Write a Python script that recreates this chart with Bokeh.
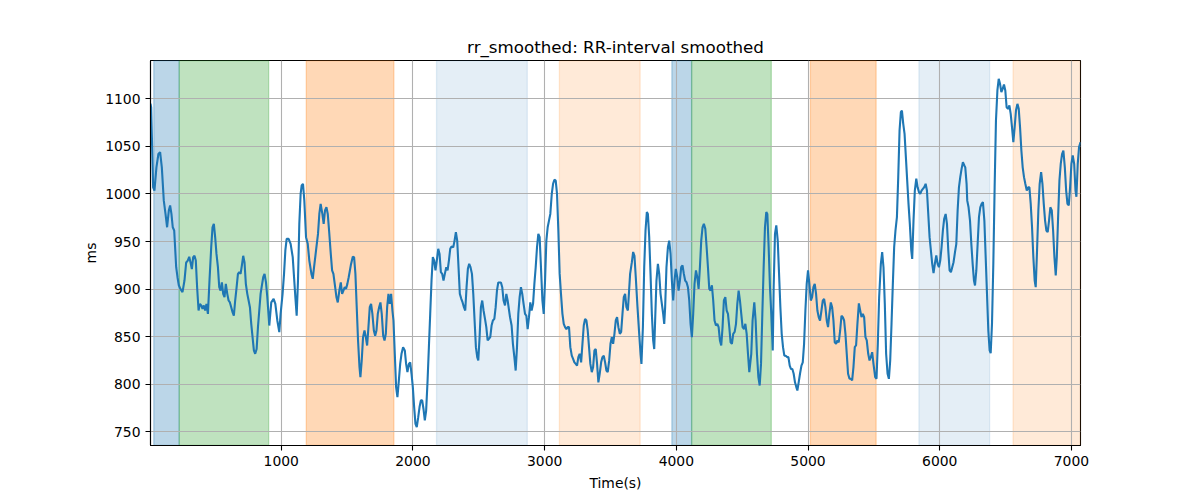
from bokeh.plotting import figure
from bokeh.models import BoxAnnotation, FixedTicker, Range1d
from bokeh.embed import file_html
from bokeh.resources import INLINE

# ---- data ----
time_s = [
    7, 12, 27, 37, 52, 67, 80, 93, 108, 121, 133, 146, 156, 166, 176, 187, 202, 212, 222, 235,
    250, 265, 278, 290, 301, 311, 321, 331, 341, 351, 361, 372, 382, 392, 402, 412, 422, 432, 443, 455,
    468, 478, 488, 498, 508, 519, 529, 539, 549, 559, 569, 579, 590, 600, 610, 620, 630, 640, 650, 661,
    671, 681, 691, 701, 711, 721, 731, 742, 752, 762, 772, 782, 792, 802, 813, 823, 833, 843, 853, 863,
    873, 884, 894, 909, 924, 942, 955, 970, 985, 995, 1010, 1021, 1031, 1041, 1056, 1071, 1087, 1097, 1107, 1117,
    1127, 1137, 1147, 1155, 1165, 1175, 1188, 1201, 1213, 1229, 1239, 1249, 1264, 1279, 1289, 1299, 1312, 1322, 1332, 1343,
    1353, 1363, 1376, 1386, 1396, 1406, 1419, 1429, 1441, 1452, 1462, 1472, 1482, 1492, 1502, 1512, 1528, 1543, 1553, 1563,
    1573, 1583, 1594, 1601, 1611, 1621, 1632, 1642, 1652, 1662, 1672, 1682, 1692, 1703, 1713, 1723, 1733, 1743, 1753, 1763,
    1774, 1784, 1794, 1804, 1814, 1824, 1834, 1844, 1852, 1862, 1872, 1882, 1893, 1903, 1913, 1925, 1938, 1948, 1958, 1969,
    1979, 1989, 1999, 2009, 2019, 2029, 2040, 2050, 2060, 2070, 2080, 2090, 2100, 2111, 2121, 2131, 2141, 2151, 2161, 2171,
    2181, 2192, 2202, 2212, 2222, 2232, 2242, 2253, 2263, 2273, 2283, 2293, 2306, 2316, 2326, 2336, 2346, 2356, 2367, 2377,
    2387, 2397, 2407, 2417, 2427, 2437, 2448, 2458, 2468, 2478, 2488, 2496, 2506, 2516, 2526, 2536, 2547, 2557, 2567, 2577,
    2587, 2597, 2607, 2618, 2628, 2638, 2648, 2658, 2668, 2678, 2688, 2699, 2709, 2719, 2737, 2749, 2759, 2770, 2780, 2790,
    2800, 2810, 2820, 2830, 2840, 2851, 2861, 2871, 2881, 2891, 2901, 2912, 2922, 2932, 2942, 2952, 2962, 2972, 2983, 2993,
    3003, 3013, 3023, 3033, 3043, 3054, 3064, 3074, 3084, 3094, 3104, 3114, 3124, 3135, 3145, 3155, 3165, 3175, 3185, 3195,
    3206, 3216, 3226, 3236, 3246, 3256, 3266, 3277, 3287, 3297, 3307, 3317, 3327, 3337, 3347, 3358, 3368, 3378, 3388, 3398,
    3408, 3418, 3429, 3439, 3449, 3459, 3469, 3479, 3490, 3500, 3510, 3520, 3530, 3540, 3550, 3560, 3571, 3581, 3591, 3601,
    3611, 3621, 3632, 3649, 3662, 3672, 3682, 3692, 3705, 3718, 3728, 3735, 3746, 3756, 3766, 3776, 3784, 3794, 3804, 3814,
    3824, 3832, 3839, 3849, 3860, 3870, 3880, 3890, 3900, 3908, 3915, 3925, 3936, 3946, 3956, 3966, 3976, 3986, 3996, 4007,
    4017, 4027, 4037, 4047, 4057, 4067, 4078, 4088, 4098, 4108, 4118, 4128, 4138, 4149, 4159, 4169, 4179, 4189, 4199, 4209,
    4220, 4230, 4240, 4250, 4260, 4270, 4280, 4290, 4301, 4311, 4321, 4331, 4341, 4351, 4361, 4372, 4382, 4392, 4402, 4412,
    4422, 4432, 4443, 4453, 4463, 4473, 4483, 4493, 4503, 4514, 4524, 4534, 4544, 4554, 4569, 4579, 4592, 4602, 4612, 4623,
    4633, 4643, 4653, 4663, 4673, 4683, 4691, 4701, 4711, 4721, 4732, 4739, 4749, 4759, 4770, 4780, 4790, 4800, 4810, 4820,
    4830, 4841, 4851, 4861, 4871, 4881, 4891, 4901, 4911, 4919, 4929, 4939, 4950, 4960, 4970, 4980, 4990, 5000, 5010, 5021,
    5031, 5041, 5051, 5061, 5071, 5081, 5091, 5102, 5112, 5122, 5132, 5142, 5152, 5162, 5173, 5183, 5193, 5203, 5213, 5223,
    5233, 5244, 5254, 5264, 5274, 5284, 5294, 5304, 5315, 5325, 5335, 5345, 5355, 5365, 5375, 5386, 5396, 5406, 5416, 5426,
    5436, 5446, 5457, 5467, 5477, 5487, 5497, 5510, 5520, 5530, 5540, 5553, 5563, 5573, 5583, 5593, 5604, 5614, 5624, 5634,
    5644, 5654, 5664, 5675, 5685, 5695, 5705, 5713, 5723, 5733, 5743, 5753, 5763, 5773, 5784, 5791, 5801, 5811, 5822, 5832,
    5842, 5852, 5862, 5872, 5882, 5893, 5903, 5913, 5923, 5933, 5943, 5953, 5963, 5974, 5984, 5994, 6004, 6014, 6024, 6034,
    6045, 6055, 6065, 6075, 6085, 6095, 6105, 6116, 6126, 6136, 6146, 6156, 6166, 6176, 6187, 6194, 6204, 6209, 6219, 6230,
    6240, 6250, 6260, 6268, 6278, 6288, 6298, 6308, 6318, 6328, 6339, 6349, 6359, 6369, 6379, 6387, 6397, 6407, 6417, 6427,
    6438, 6448, 6458, 6468, 6478, 6488, 6498, 6508, 6519, 6529, 6539, 6549, 6559, 6569, 6579, 6590, 6600, 6610, 6620, 6630,
    6640, 6650, 6661, 6671, 6681, 6691, 6701, 6711, 6721, 6729, 6739, 6749, 6759, 6770, 6780, 6790, 6800, 6810, 6820, 6830,
    6840, 6851, 6861, 6871, 6881, 6889, 6899, 6909, 6919, 6929, 6939, 6950, 6960, 6970, 6980, 6990, 7000, 7010, 7021, 7031,
    7038, 7048, 7058, 7069,
]

rr_ms = [
    1095, 1091, 1007, 1003.6, 1028, 1042, 1044, 1028, 993, 979, 965, 982.6, 988, 979, 965, 961.6, 923, 912.5, 904, 900,
    896.8, 909, 928, 930, 934, 928, 921, 933.6, 935, 930, 902, 877.5, 884.5, 882.8, 879.3, 882.8, 877.5, 884.5, 874, 909,
    944, 965, 968.6, 954.6, 937, 923, 902, 898.5, 907, 895, 891.5, 905.5, 895, 888, 886, 881, 875.8, 872, 888, 902,
    916, 917.8, 916, 925, 935, 928, 905.5, 895, 888, 881, 863.5, 849.5, 835.5, 832, 837, 860, 877.5, 895, 904, 912.5,
    916, 907, 891.5, 861.7, 886, 889.8, 884.5, 867, 854.7, 874, 895, 916, 940.6, 952.8, 952.8, 947.6, 933.6, 912.5, 891.5, 872,
    909, 968.6, 1000, 1009, 1010.7, 993, 954.6, 947.6, 930, 916, 910.8, 923, 940.6, 958, 979, 989.6, 979, 968.6, 982.6, 986,
    979, 961.6, 937, 919.6, 916, 905.5, 891.5, 886, 898.5, 907, 895, 898.5, 902, 900.3, 905.5, 912.5, 925, 934, 933.6, 916,
    881, 846, 818, 807.4, 825, 849.5, 856.5, 849.5, 840.7, 860, 881, 884.5, 874, 856.5, 851, 856.5, 874, 881, 886, 874,
    851, 846, 853, 881, 895, 884.5, 895, 877.5, 867, 832, 797, 786.5, 804, 821.4, 832, 839, 835.5, 821.4, 812.7, 821.4,
    823, 811, 797, 776, 758.4, 755, 765.4, 776, 783, 783, 774, 762, 772, 804, 839, 874, 909, 933.6, 930, 919.6,
    930, 942.3, 937, 917.8, 916, 909, 916, 923, 919.6, 930, 942.3, 944.8, 944, 951, 959.8, 951, 923, 895, 889.8, 886,
    881, 877.5, 902, 921.3, 926.6, 923, 916, 895, 867, 839, 828.5, 825, 849.5, 881, 888, 877.5, 868.7, 860, 846, 847.8,
    849.5, 861.7, 867, 868.7, 881, 898.5, 907, 907, 907, 902, 888, 882.8, 895, 888, 870.5, 861.7, 842.5, 828.5, 814.4, 839,
    874, 891.5, 902, 895, 884.5, 874, 872, 858, 870.5, 886, 877.5, 884.5, 905.5, 923, 944, 958, 954.6, 923, 888, 874,
    909, 951, 965, 972, 979, 1000, 1010.7, 1015, 1014, 1000, 961.6, 916, 895, 874, 863.5, 860, 858, 860, 860, 839,
    830, 826.7, 823, 821.4, 819.6, 828.5, 832, 823, 842.5, 861.7, 868.7, 867, 856.5, 839, 821.4, 812.7, 818, 835.5, 837, 821.4,
    802, 811, 823, 828.5, 830, 823, 814.4, 812.7, 825, 842.5, 849.5, 842.5, 853, 867, 870.5, 860, 853, 855, 874, 891.5,
    895, 881, 877.5, 916, 928, 939, 935, 912.5, 881, 853, 832, 821.4, 860, 923, 961.6, 981, 979, 954.6, 916, 874,
    846, 837, 867, 909, 926.6, 916, 895, 884.5, 874, 863.5, 881, 923, 944, 951, 937, 909, 888, 909, 921.3, 912.5,
    898.5, 909, 923, 925, 916, 909, 907, 902, 888, 863.5, 849.5, 874, 905.5, 919.6, 912.5, 900.3, 923, 951, 965, 968.6,
    963.3, 944, 923, 900.3, 898.5, 904, 888, 867, 861.7, 863.5, 860, 846, 840.7, 860, 888, 891.5, 877.5, 874, 860, 844,
    842.5, 853, 855, 863.5, 884.5, 898.5, 888, 874, 860, 858, 863.5, 853, 832, 812.7, 832, 867, 886, 867, 832, 807.4,
    798.7, 821.4, 874, 923, 965, 981, 979, 944, 902, 874, 835.5, 902, 958, 967, 951, 916, 881, 853, 839, 830,
    830, 828.5, 828.5, 819.6, 816, 816, 811, 802, 797, 793.4, 802, 811, 819.6, 823, 842.5, 877.5, 905.5, 919.6, 905.5, 888,
    891.5, 902, 905.5, 895, 877.5, 870.5, 867, 877.5, 888, 889.8, 881, 867, 860, 874, 886, 881, 867, 844, 842.5, 846,
    844, 856.5, 872, 870.5, 867, 853, 832, 811, 805.7, 805.7, 804, 818, 839, 841, 863.5, 885, 877.5, 870.5, 874, 870.5,
    849.5, 846, 832, 825, 828.5, 833.7, 821.4, 807.4, 805.7, 842.5, 891.5, 926.6, 938.8, 923, 884.5, 832, 811, 805.7, 825, 863.5,
    905.5, 944, 961.6, 975.6, 1017.7, 1066.7, 1086, 1087.7, 1073.7, 1063.2, 1038.7, 1014, 989.6, 968.6, 940.6, 931.8, 972, 1003.6, 1016, 1007,
    1002, 1000, 1003.6, 1005.4, 1007, 1010.7, 1003.6, 979, 954.6, 940.6, 926.6, 916.8, 926.6, 935.3, 926.6, 923, 930, 944, 961.6, 974,
    979, 968.6, 940.6, 919.6, 917.8, 923, 928.3, 938.8, 947.6, 982.6, 1007, 1017.7, 1026.4, 1033.4, 1030, 1028, 1010.7, 993, 986, 972,
    947.6, 926.6, 909, 903.8, 919.6, 947.6, 975.6, 986, 989.6, 991.4, 972, 933.6, 895, 856.5, 835.5, 832.7, 863.5, 926.6, 1007, 1077,
    1108.8, 1121, 1115.8, 1107, 1110.5, 1115, 1108.8, 1091.2, 1089.5, 1093, 1084.2, 1070, 1054.4, 1070, 1087.7, 1094.7, 1089.5, 1070, 1045.7, 1028,
    1017.7, 1010.7, 1003.6, 1007, 1007, 989.6, 965, 933.6, 909, 902, 940.6, 982.6, 1010.7, 1023, 1010.7, 989.6, 972, 961.6, 959.8, 972,
    986, 982.6, 961.6, 933.6, 914.3, 933.6, 975.6, 1014, 1031.7, 1042, 1045.7, 1028, 1003.6, 989.6, 988, 1007, 1031.7, 1040.4, 1031.7, 1003.6,
    997, 1031.7, 1049.2, 1054.4,
]

# shaded phases (start, end in seconds)
span_start = [32, 225, 1190, 2179, 3112, 3966, 4116, 5018, 5842, 6557]
span_end = [225, 904, 1855, 2868, 3725, 4116, 4721, 5517, 6379, 7069]
span_color = ["#1f77b4", "#2ca02c", "#ff7f0e", "#1f77b4", "#ff7f0e",
              "#1f77b4", "#2ca02c", "#ff7f0e", "#1f77b4", "#ff7f0e"]
span_alpha = [0.3, 0.3, 0.3, 0.12, 0.16, 0.3, 0.3, 0.3, 0.12, 0.16]

x_ticks = [1000, 2000, 3000, 4000, 5000, 6000, 7000]
y_ticks = [750, 800, 850, 900, 950, 1000, 1050, 1100]

FONT = "DejaVu Sans"

p = figure(
    frame_width=930, frame_height=385,
    min_border_left=150, min_border_right=112, min_border_top=60, min_border_bottom=47,
    x_range=Range1d(7, 7069), y_range=Range1d(735.6, 1140.3),
    output_backend="svg", toolbar_location=None,
    title="rr_smoothed: RR-interval smoothed",
)
p.background_fill_color = "white"
p.border_fill_color = "white"
p.outline_line_color = "black"
p.outline_line_width = 1.1

p.title.align = "center"
p.title.text_font = FONT
p.title.text_font_size = "16.7px"
p.title.text_font_style = "normal"
p.title.text_color = "black"
p.title.standoff = 7

for s, e, c, a in zip(span_start, span_end, span_color, span_alpha):
    p.add_layout(BoxAnnotation(left=s, right=e, fill_color=c, fill_alpha=a,
                               line_color=c, line_alpha=a, line_width=1.3, level="image"))

p.line(time_s, rr_ms, line_color="#1f77b4", line_width=2.1)

p.xaxis.ticker = FixedTicker(ticks=x_ticks)
p.yaxis.ticker = FixedTicker(ticks=y_ticks)
p.xaxis.axis_label = "Time(s)"
p.yaxis.axis_label = "ms"
for ax in (p.xaxis, p.yaxis):
    ax.axis_label_text_font = FONT
    ax.axis_label_text_font_size = "13.9px"
    ax.axis_label_text_font_style = "normal"
    ax.axis_label_text_color = "black"
    ax.major_label_text_font = FONT
    ax.major_label_text_font_size = "13.9px"
    ax.major_label_text_color = "black"
    ax.axis_line_color = "black"
    ax.axis_line_width = 1.1
    ax.major_tick_line_color = "black"
    ax.major_tick_line_width = 1.1
    ax.major_tick_out = 5
    ax.major_tick_in = 0
    ax.minor_tick_line_color = None
    ax.major_label_standoff = 5
p.xaxis.axis_label_standoff = 6
p.yaxis.axis_label_standoff = 3
p.yaxis.major_label_orientation = "horizontal"

for g in (p.xgrid, p.ygrid):
    g.grid_line_color = "#b0b0b0"
    g.grid_line_width = 1.1

open("out.html", "w").write(file_html(p, INLINE))
